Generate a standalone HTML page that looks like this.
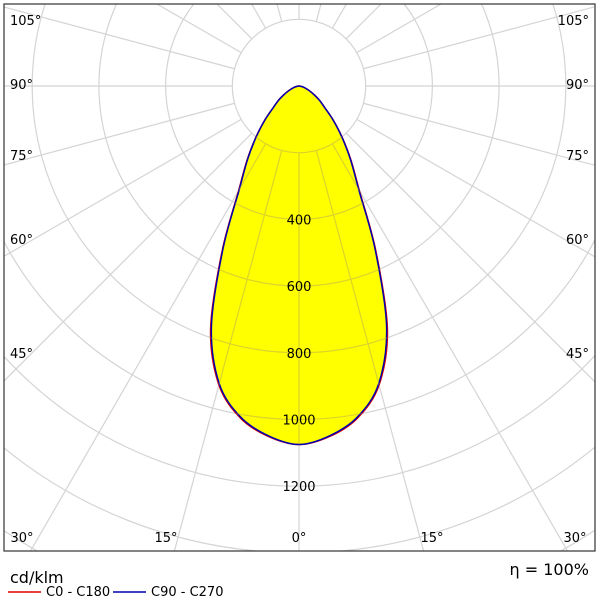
<!DOCTYPE html>
<html><head><meta charset="utf-8">
<style>
html,body{margin:0;padding:0;background:#fff;overflow:hidden;}
svg{display:block;font-family:"DejaVu Sans","Liberation Sans",sans-serif;}
</style></head>
<body>
<svg id="chart" width="600" height="600" viewBox="0 0 600 600" xmlns="http://www.w3.org/2000/svg">
<defs><clipPath id="box"><rect x="4" y="4" width="591" height="547"/></clipPath></defs>
<rect x="0" y="0" width="600" height="600" fill="#fff"/>
<g id="grid" clip-path="url(#box)"></g>
<g id="curves" clip-path="url(#box)"></g>
<g id="gridTop" clip-path="url(#box)" opacity="0.45"></g>
<g id="labels"></g>
<rect x="4" y="4" width="591" height="547" fill="none" stroke="#333" stroke-width="1.2"/>
<text x="10" y="583" font-size="16" fill="#000">cd/klm</text>
<line x1="8" y1="592" x2="41" y2="592" stroke="#e00000" stroke-width="1.5"/>
<text x="46" y="596" font-size="13" fill="#000">C0 - C180</text>
<line x1="113" y1="592" x2="146" y2="592" stroke="#0000b0" stroke-width="1.5"/>
<text x="151" y="596" font-size="13" fill="#000">C90 - C270</text>
<text x="589" y="575" font-size="16" text-anchor="end" fill="#000">η = 100%</text>
</svg>
<script>
const angles = [0,5,10,15,20,25,30,35,40,45,50,55,60,65,70,75,80,85,90];
const c0c180 = [1075,1055,1011,928,775,545,362,272,202,146,101,76,53,36,23,14,7,2,0];
const c90c270 = [1075,1053,1008,924,768,540,358,269,200,145,100,75,52,35,22,13,6,2,0];
const ringValues = [200,400,600,800,1000,1200,1400,1600];
const ringLabels = ["400","600","800","1000","1200"];
const angleLabelsSide = ["45°","60°","75°","90°","105°"];
const angleLabelsBottom = ["30°","15°","0°","15°","30°"];

const NS="http://www.w3.org/2000/svg";
const cx=299, cy=86, k=0.3335;
function rScale(v){return v*k;}
function pt(thetaDeg,v){const t=thetaDeg*Math.PI/180;const r=rScale(v);return [cx+r*Math.sin(t), cy+r*Math.cos(t)];}
function mk(tag,attrs,parent){const e=document.createElementNS(NS,tag);for(const a in attrs)e.setAttribute(a,attrs[a]);parent.appendChild(e);return e;}

function drawGrid(g,color){
  ringValues.forEach(v=>{
    const c=mk('circle',{cx:cx,cy:cy,r:rScale(v),fill:'none',stroke:color,'stroke-width':1.2},g);
    
    
  });
  for(let a=0;a<360;a+=15){
    const p1=pt(a,ringValues[0]), p2=pt(a,3000);
    const l=mk('line',{x1:p1[0],y1:p1[1],x2:p2[0],y2:p2[1],stroke:color,'stroke-width':1.2},g);
    
    
  }
}
drawGrid(document.getElementById('grid'),'#d4d4d4');

function curvePath(vals){
  const pts=[];
  for(let i=angles.length-1;i>=0;i--) pts.push(pt(-angles[i],vals[i]));
  for(let i=1;i<angles.length;i++) pts.push(pt(angles[i],vals[i]));
  let d='M'+pts[0][0]+','+pts[0][1];
  for(let i=0;i<pts.length-1;i++){
    const p0=pts[Math.max(0,i-1)],p1=pts[i],p2=pts[i+1],p3=pts[Math.min(pts.length-1,i+2)];
    const c1=[p1[0]+(p2[0]-p0[0])/6,p1[1]+(p2[1]-p0[1])/6];
    const c2=[p2[0]-(p3[0]-p1[0])/6,p2[1]-(p3[1]-p1[1])/6];
    d+=' C'+c1[0]+','+c1[1]+' '+c2[0]+','+c2[1]+' '+p2[0]+','+p2[1];
  }
  return d+' Z';
}
const cg=document.getElementById('curves');
const fill=mk('path',{d:curvePath(c0c180),fill:'#ffff00',stroke:'none'},cg);


const gt=document.getElementById('gridTop');
const inner=mk('g',{},gt);
drawGrid(inner,'#b0a060');
const cp=mk('clipPath',{id:'fillclip'},document.querySelector('defs'));
mk('path',{d:curvePath(c0c180)},cp);
inner.setAttribute('clip-path','url(#fillclip)');
const red=mk('path',{d:curvePath(c0c180),fill:'none',stroke:'#e00000','stroke-width':1.5},cg);


const blue=mk('path',{d:curvePath(c90c270),fill:'none',stroke:'#0000b0','stroke-width':1.5},cg);


cg.parentNode.appendChild(gt);

const lg=document.getElementById('labels');
lg.parentNode.appendChild(lg);
ringLabels.forEach(s=>{
  const v=parseFloat(s);
  const t=mk('text',{x:cx,y:cy+rScale(v)+5,'font-size':13,'text-anchor':'middle',fill:'#000'},lg);
  t.textContent=s;
  
  
});
const sideY=[358,244,160,89,25];
angleLabelsSide.forEach((s,i)=>{
  const t1=mk('text',{x:10,y:sideY[i],'font-size':13,fill:'#000'},lg);
  t1.textContent=s;
  
  
  const t2=mk('text',{x:589,y:sideY[i],'font-size':13,'text-anchor':'end',fill:'#000'},lg);
  t2.textContent=s;
  
  
});
const botX=[22,166,299,432,575];
angleLabelsBottom.forEach((s,i)=>{
  const t=mk('text',{x:botX[i],y:542,'font-size':13,'text-anchor':'middle',fill:'#000'},lg);
  t.textContent=s;
  
  
});
</script>
</body></html>
